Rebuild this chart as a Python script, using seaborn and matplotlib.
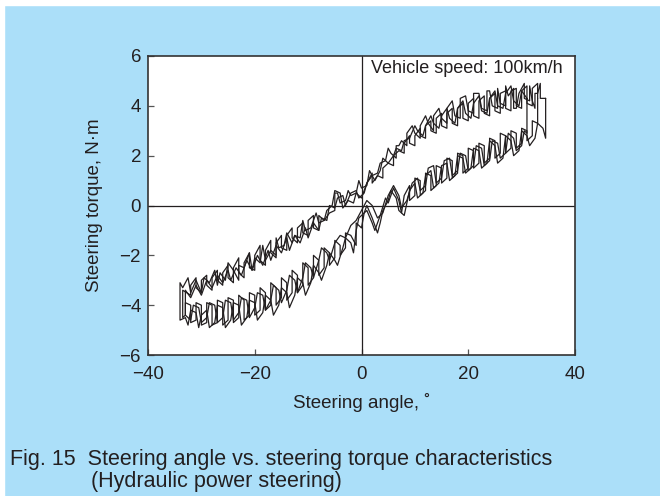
import numpy as np
import pandas as pd
import seaborn as sns
import matplotlib.pyplot as plt
from matplotlib.patches import Rectangle

# cycle 1 : upper branch (angle going down), then lower branch (angle going up)
angle_c1 = [34.5, 33.5, 33.5, 33.0, 32.5, 32.5, 32.0, 31.5, 31.5, 30.5, 30.5, 29.5, 29.0, 28.5, 28.5, 27.5,
            27.0, 27.0, 26.0, 25.5, 25.5, 24.5, 24.0, 23.5, 23.5, 22.5, 22.0, 21.0, 21.0, 20.0, 19.5, 18.5,
            18.5, 17.5, 17.0, 16.0, 16.0, 15.0, 14.5, 13.5, 13.5, 12.5, 12.0, 11.0, 11.0, 10.0, 9.5, 8.5,
            8.5, 7.5, 7.0, 6.5, 6.5, 5.5, 5.0, 4.5, 3.5, 3.0, 2.0, 1.5, 1.0, 0.0, -0.5, -1.0,
            -2.0, -2.5, -3.0, -4.0, -4.5, -5.0, -5.0, -6.0, -7.0, -8.0, -8.5, -9.5, -10.5, -11.0, -11.5, -12.5,
            -13.0, -14.0, -14.5, -15.5, -16.0, -16.0, -17.0, -18.0, -18.5, -19.0, -20.0, -20.5, -21.0, -22.0, -23.0, -23.0,
            -24.0, -25.0, -25.5, -26.5, -27.0, -27.5, -28.5, -29.5, -30.0, -31.0, -32.0, -32.5, -33.5, -34.0, -34.0,
            -33.0, -32.5, -32.0, -31.0, -30.5, -30.0, -29.0, -28.5, -27.5, -27.0, -26.0, -25.5, -24.5, -24.0, -23.0, -22.5,
            -21.5, -21.0, -20.0, -19.5, -18.5, -18.0, -17.0, -16.5, -15.5, -15.0, -14.0, -13.5, -12.5, -12.0, -11.0, -10.5,
            -9.5, -9.0, -8.0, -7.5, -6.5, -6.0, -5.0, -4.5, -3.5, -3.0, -2.0, -1.5, -1.0, -0.5, 0.5, 1.0,
            2.0, 3.0, 3.5, 4.0, 5.0, 5.5, 6.5, 7.0, 8.0, 8.5, 9.0, 10.0, 10.5, 11.5, 12.0, 13.0,
            13.5, 14.5, 15.0, 16.0, 16.5, 17.5, 18.0, 19.0, 19.5, 20.5, 21.0, 22.0, 22.5, 23.5, 24.0, 25.0,
            25.5, 26.5, 27.0, 28.0, 28.5, 29.5, 30.0, 31.0, 31.5, 32.5, 33.0, 34.0, 34.5, 34.5]
torque_c1 = [4.3, 4.3, 4.9, 4.5, 4.5, 3.9, 4.2, 4.8, 4.2, 4.3, 4.9, 4.5, 3.9, 3.9, 4.7, 4.4,
             4.8, 4.0, 4.1, 4.7, 3.9, 4.0, 4.6, 4.6, 3.8, 3.9, 4.5, 4.5, 3.7, 3.8, 4.4, 4.3,
             3.5, 3.6, 4.2, 3.9, 3.3, 3.5, 3.9, 3.6, 3.0, 3.3, 3.6, 3.2, 2.7, 2.9, 3.2, 2.9,
             2.4, 2.6, 2.4, 2.4, 1.9, 2.1, 2.3, 1.8, 1.7, 1.3, 1.2, 1.4, 0.8, 0.7, 1.0, 0.5,
             0.4, 0.6, 0.2, 0.1, 0.5, 0.5, -0.2, -0.3, -0.6, -0.7, -0.3, -0.9, -1.0, -0.6, -1.3, -1.2,
             -1.5, -1.1, -1.6, -1.7, -1.3, -2.0, -1.8, -2.2, -1.6, -2.3, -2.1, -2.6, -1.9, -2.5, -2.4, -3.0,
             -2.6, -2.3, -3.0, -2.7, -3.2, -2.6, -3.1, -2.9, -3.5, -3.0, -3.5, -2.9, -3.3, -3.1, -4.6,
             -4.5, -4.8, -4.2, -4.3, -4.9, -4.4, -4.2, -4.9, -4.7, -4.0, -4.1, -4.9, -4.6, -3.9, -4.0, -4.8,
             -4.5, -3.8, -3.9, -4.6, -4.3, -3.6, -3.8, -4.4, -4.0, -3.3, -3.5, -4.1, -3.6, -2.9, -3.1, -3.6,
             -3.1, -2.4, -2.7, -3.0, -2.4, -1.9, -2.2, -2.4, -1.7, -1.3, -1.5, -1.9, -1.0, -0.5, -0.3, 0.0,
             -0.5, -1.1, -0.7, -0.2, 0.2, 0.6, 0.3, -0.2, -0.4, 0.1, 0.6, 0.9, 0.3, 0.5, 1.2, 1.4,
             0.7, 0.9, 1.6, 1.7, 1.0, 1.2, 2.0, 1.9, 1.3, 1.5, 2.3, 2.2, 1.5, 1.7, 2.6, 2.4,
             1.7, 1.9, 2.8, 2.6, 2.0, 2.2, 3.0, 2.8, 2.4, 2.7, 3.3, 3.1, 2.7, 4.3]

# cycle 2
angle_c2 = [31.0, 30.0, 29.5, 28.5, 28.0, 27.0, 26.5, 25.5, 25.0, 24.0, 23.5, 22.5, 22.0, 21.0, 20.5, 19.5,
            19.0, 18.0, 17.5, 16.5, 16.0, 15.0, 14.5, 13.5, 13.0, 12.0, 11.5, 10.5, 10.0, 9.0, 8.0, 7.5,
            6.5, 6.0, 5.0, 4.0, 3.5, 2.5, 2.0, 1.0, 0.5, -0.5, -1.0, -2.0, -3.0, -3.5, -4.5, -5.0,
            -6.0, -6.5, -7.5, -8.0, -9.0, -10.0, -10.5, -11.5, -12.5, -13.5, -14.0, -15.0, -16.0, -17.0, -17.5, -18.5,
            -19.5, -20.5, -21.5, -22.5, -23.5, -24.5, -25.0, -26.0, -27.0, -28.0, -29.0, -30.0, -31.0, -32.0, -33.0, -33.0,
            -32.0, -31.5, -30.5, -30.0, -29.0, -28.5, -27.5, -27.0, -26.0, -25.5, -24.5, -24.0, -23.0, -22.5, -21.5, -21.0,
            -20.0, -19.5, -18.5, -18.0, -17.0, -16.5, -15.5, -15.0, -14.0, -13.5, -12.5, -12.0, -11.0, -10.5, -9.5, -9.0,
            -8.0, -7.5, -6.5, -6.0, -5.0, -4.0, -3.0, -2.0, -1.0, 0.0, 1.0, 2.0, 3.0, 4.0, 5.0, 6.0,
            7.0, 7.5, 8.5, 9.5, 10.5, 11.0, 12.0, 12.5, 13.5, 14.0, 15.0, 15.5, 16.5, 17.0, 18.0, 18.5,
            19.5, 20.0, 21.0, 21.5, 22.5, 23.0, 24.0, 24.5, 25.5, 26.0, 27.0, 27.5, 28.5, 29.0, 30.0, 30.5,
            31.0, 31.0]
torque_c2 = [4.3, 4.6, 4.0, 4.2, 4.8, 4.5, 3.9, 4.0, 4.6, 4.3, 3.7, 3.8, 4.4, 4.1, 3.5, 3.7,
             4.2, 3.9, 3.3, 3.5, 3.9, 3.6, 3.1, 3.3, 3.6, 3.2, 2.8, 3.0, 3.2, 2.7, 2.6, 2.2,
             2.3, 2.0, 1.7, 1.9, 1.4, 1.0, 1.2, 0.9, 0.5, 0.3, 0.6, 0.5, 0.0, 0.4, 0.3, -0.1,
             0.0, -0.6, -0.5, -1.0, -0.7, -1.3, -0.9, -1.5, -1.2, -1.8, -1.3, -1.9, -1.6, -2.2, -1.8, -2.4,
             -2.0, -2.6, -2.2, -2.8, -2.5, -3.0, -2.6, -3.1, -2.8, -3.3, -3.0, -3.6, -3.2, -3.7, -3.4, -4.4,
             -4.6, -4.0, -4.1, -4.7, -4.5, -3.9, -4.0, -4.7, -4.5, -3.8, -3.9, -4.6, -4.3, -3.7, -3.8, -4.5,
             -4.1, -3.5, -3.6, -4.2, -3.8, -3.2, -3.4, -3.9, -3.4, -2.8, -3.0, -3.5, -2.9, -2.3, -2.5, -2.9,
             -2.2, -1.7, -1.9, -2.2, -1.5, -1.2, -1.3, -0.8, -0.6, -0.2, 0.2, 0.0, -0.5, -0.3, 0.4, 0.8,
             0.4, -0.1, 0.2, 0.9, 1.1, 0.6, 0.8, 1.5, 1.6, 0.9, 1.1, 1.8, 1.9, 1.2, 1.4, 2.1,
             2.0, 1.4, 1.6, 2.4, 2.3, 1.6, 1.8, 2.6, 2.5, 1.9, 2.1, 2.9, 2.7, 2.2, 2.4, 3.0,
             2.9, 4.3]

# cycle 3 (step-like trace)
angle_c3 = [33.0, 33.0, 32.0, 32.0, 31.0, 31.0, 30.0, 30.0,
            29.0, 29.0, 28.0, 28.0, 27.0, 27.0, 26.0, 26.0,
            25.0, 25.0, 24.0, 24.0, 23.0, 23.0, 22.0, 22.0,
            21.0, 21.0, 20.0, 20.0, 19.0, 19.0, 18.0, 18.0,
            17.0, 17.0, 16.0, 16.0, 15.0, 15.0, 14.0, 14.0,
            13.0, 13.0, 12.0, 12.0, 11.0, 11.0, 10.0, 10.0,
            9.0, 9.0, 8.0, 8.0, 7.0, 6.0, 6.0, 5.0,
            4.0, 4.0, 3.0, 2.0, 2.0, 1.0, 0.0, -1.0,
            -1.5, -2.5, -3.5, -4.0, -5.0, -5.5, -6.5, -7.0,
            -8.0, -8.0, -9.0, -9.0, -10.0, -10.0, -11.0, -11.0,
            -12.0, -12.0, -13.0, -13.0, -14.0, -14.0, -15.0, -15.0,
            -16.0, -16.0, -17.0, -17.0, -18.0, -18.0, -19.0, -19.0,
            -20.0, -20.0, -21.0, -21.0, -22.0, -22.0, -23.0, -23.0,
            -24.0, -24.0, -25.0, -25.0, -26.0, -26.0, -27.0, -27.0,
            -28.0, -28.0, -29.0, -29.0, -30.0, -30.0, -31.0, -31.0,
            -32.0, -32.0, -33.5, -33.5, -33.0, -33.0, -32.0, -32.0,
            -31.0, -31.0, -30.0, -30.0, -29.0, -29.0, -28.0, -28.0,
            -27.0, -27.0, -26.0, -26.0, -25.0, -25.0, -24.0, -24.0,
            -23.0, -23.0, -22.0, -22.0, -21.0, -21.0, -20.0, -20.0,
            -19.0, -19.0, -18.0, -18.0, -17.0, -17.0, -16.0, -16.0,
            -15.0, -15.0, -14.0, -14.0, -13.0, -13.0, -12.0, -12.0,
            -11.0, -11.0, -10.0, -10.0, -9.0, -9.0, -8.0, -8.0,
            -7.0, -7.0, -6.0, -6.0, -5.0, -5.0, -4.0, -4.0,
            -3.0, -3.0, -2.0, -1.0, -1.0, 0.0, 0.5, 1.0,
            2.0, 2.5, 3.5, 4.5, 5.0, 6.0, 7.0, 7.5,
            8.0, 9.0, 9.0, 10.0, 10.0, 11.0, 11.0, 12.0,
            12.0, 13.0, 13.0, 14.0, 14.0, 15.0, 15.0, 16.0,
            16.0, 17.0, 17.0, 18.0, 18.0, 19.0, 19.0, 20.0,
            20.0, 21.0, 21.0, 22.0, 22.0, 23.0, 23.0, 24.0,
            24.0, 25.0, 25.0, 26.0, 26.0, 27.0, 27.0, 28.0,
            28.0, 29.0, 29.0, 30.0, 30.0, 31.0, 31.0, 32.0,
            32.0, 33.0, 33.0]
torque_c3 = [4.3, 4.9, 4.7, 4.0, 4.1, 4.8, 4.6, 3.9,
             4.0, 4.7, 4.6, 3.8, 3.9, 4.6, 4.5, 3.7,
             3.8, 4.5, 4.3, 3.6, 3.7, 4.4, 4.2, 3.5,
             3.6, 4.3, 4.1, 3.4, 3.5, 4.1, 3.9, 3.2,
             3.3, 3.9, 3.7, 3.1, 3.2, 3.7, 3.5, 2.9,
             3.0, 3.4, 3.2, 2.7, 2.8, 3.1, 2.8, 2.4,
             2.5, 2.8, 2.5, 2.1, 2.2, 2.0, 1.6, 1.7,
             1.5, 1.1, 1.2, 0.9, 1.3, 0.9, 0.3, 0.5,
             0.1, 0.2, -0.1, 0.5, 0.6, 0.0, -0.2, -0.6,
             -0.4, -1.0, -0.9, -0.4, -0.6, -1.2, -1.1, -0.7,
             -0.9, -1.5, -1.3, -0.9, -1.2, -1.8, -1.7, -1.2,
             -1.5, -2.1, -1.9, -1.4, -1.8, -2.4, -2.2, -1.6,
             -2.0, -2.6, -2.5, -1.9, -2.3, -2.9, -2.7, -2.1,
             -2.5, -3.1, -2.9, -2.4, -2.7, -3.2, -3.0, -2.6,
             -2.9, -3.4, -3.2, -2.8, -3.0, -3.5, -3.3, -2.9,
             -3.2, -3.6, -3.4, -4.5, -4.4, -3.9, -4.0, -4.7,
             -4.6, -3.9, -4.0, -4.8, -4.7, -3.9, -4.0, -4.8,
             -4.7, -3.8, -3.9, -4.8, -4.6, -3.7, -3.8, -4.7,
             -4.5, -3.6, -3.8, -4.6, -4.4, -3.5, -3.6, -4.4,
             -4.2, -3.3, -3.5, -4.2, -4.0, -3.1, -3.3, -4.0,
             -3.7, -2.9, -3.1, -3.8, -3.5, -2.6, -2.8, -3.5,
             -3.2, -2.3, -2.5, -3.2, -2.9, -2.0, -2.2, -2.8,
             -2.5, -1.7, -1.9, -2.4, -2.1, -1.4, -1.6, -2.0,
             -1.7, -1.1, -1.2, -1.6, -0.7, -0.9, -0.3, -0.2,
             -0.7, -1.0, -0.4, 0.3, 0.1, 0.7, 0.2, -0.3,
             0.4, 0.8, 0.2, 0.4, 1.1, 1.0, 0.4, 0.6,
             1.3, 1.2, 0.6, 0.8, 1.6, 1.5, 0.9, 1.1,
             1.9, 1.8, 1.1, 1.3, 2.1, 2.0, 1.3, 1.5,
             2.3, 2.2, 1.5, 1.7, 2.5, 2.4, 1.7, 1.9,
             2.7, 2.6, 1.9, 2.1, 2.9, 2.8, 2.1, 2.3,
             3.0, 2.9, 2.3, 2.5, 3.1, 3.0, 2.6, 2.8,
             3.4, 3.3, 4.3]

x_ticks = [-40, -20, 0, 20, 40]
y_ticks = [-6, -4, -2, 0, 2, 4, 6]

df = pd.concat([
    pd.DataFrame({"angle": angle_c1, "torque": torque_c1, "cycle": 1}),
    pd.DataFrame({"angle": angle_c2, "torque": torque_c2, "cycle": 2}),
    pd.DataFrame({"angle": angle_c3, "torque": torque_c3, "cycle": 3}),
], ignore_index=True)

sns.set_theme(style="ticks")
plt.rcParams['font.family'] = ['Liberation Sans', 'DejaVu Sans']
ink = "#231f20"
blue = "#abdff9"

fig = plt.figure(figsize=(6.6, 4.96), dpi=100, facecolor=blue)
# white page edge at top and left
fig.patches.append(Rectangle((0, 0), 4 / 660, 1, transform=fig.transFigure, color="white", zorder=0))
fig.patches.append(Rectangle((0, 1 - 5 / 496), 1, 5 / 496, transform=fig.transFigure, color="white", zorder=0))

ax = fig.add_axes([148 / 660, 1 - 355 / 496, (575 - 148) / 660, (355 - 56) / 496])
ax.set_facecolor("white")

ax.axhline(0, color=ink, lw=0.9, zorder=1)
ax.axvline(0, color=ink, lw=0.9, zorder=1)

sns.lineplot(data=df, x="angle", y="torque", units="cycle", estimator=None, sort=False,
             color=ink, lw=0.9, ax=ax, legend=False)

ax.set_xlim(-40, 40)
ax.set_ylim(-6, 6)
ax.set_xticks(x_ticks)
ax.set_yticks(y_ticks)
ax.set_xticklabels([str(t).replace("-", "\u2212") for t in x_ticks])
ax.set_yticklabels([str(t).replace("-", "\u2212") for t in y_ticks])
ax.tick_params(direction="in", length=4, width=0.9, color="#555555", labelsize=13.5,
               labelcolor=ink)
ax.tick_params(axis="x", pad=8)
ax.tick_params(axis="y", pad=5)
for s in ax.spines.values():
    s.set_color("#333333")
    s.set_linewidth(1.2)

ax.set_xlabel("Steering angle, \u02da", fontsize=13.5, color=ink, labelpad=7)
ax.set_ylabel("Steering torque, N\u00b7m", fontsize=13.5, color=ink, labelpad=12)

ax.text(37.6, 5.5, "Vehicle speed: 100km/h", ha="right", va="center", fontsize=13, color=ink)

fig.text(10 / 660, 1 - 460 / 496, "Fig. 15  Steering angle vs. steering torque characteristics",
         ha="left", va="center", fontsize=15.5, color=ink)
fig.text(91 / 660, 1 - 481 / 496, "(Hydraulic power steering)",
         ha="left", va="center", fontsize=15.5, color=ink)

fig.savefig("out.png", dpi=100, facecolor=blue)
